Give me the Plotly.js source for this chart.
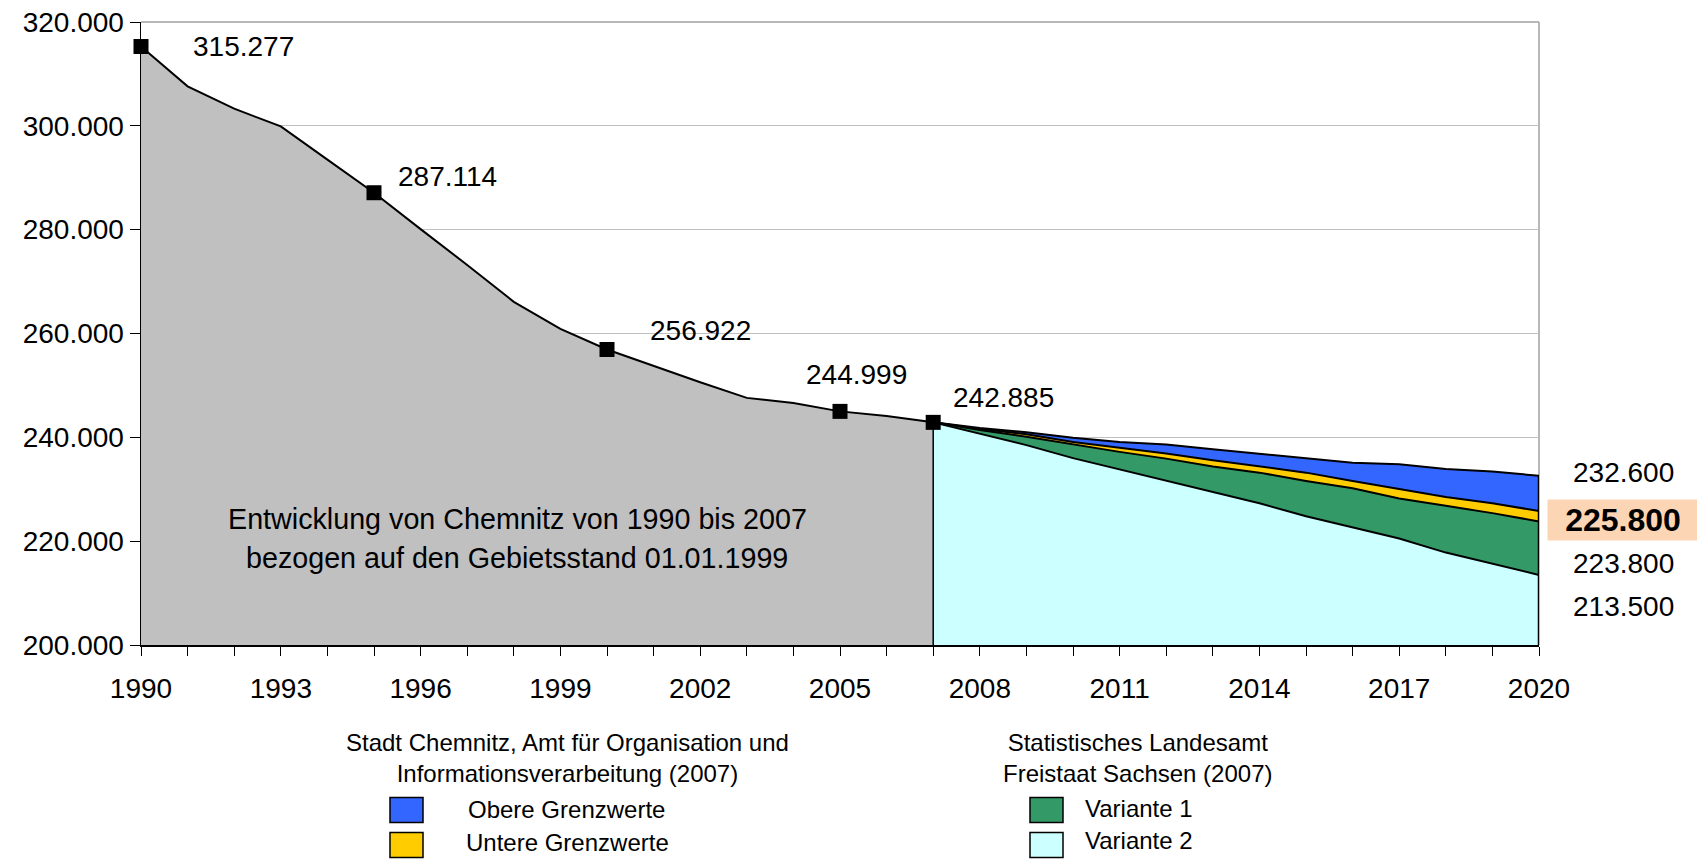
<!DOCTYPE html>
<html>
<head>
<meta charset="utf-8">
<script src="https://cdn.plot.ly/plotly-3.0.1.min.js"></script>
<style>
  html, body { margin: 0; padding: 0; background: #ffffff; }
  #chart { width: 1697px; height: 859px; }
</style>
</head>
<body>
<div id="chart"></div>
<script>
// ---------- DATA ----------
const histYears  = [1990,1991,1992,1993,1994,1995,1996,1997,1998,1999,2000,2001,2002,2003,2004,2005,2006,2007];
const histValues = [315277,307600,303300,299900,293500,287114,280100,273200,266100,260900,256922,253700,250600,247600,246600,244999,244100,242885];

const markerYears  = [1990,1995,2000,2005,2007];
const markerValues = [315277,287114,256922,244999,242885];

const projYears        = [2007,2008,2009,2010,2011,2012,2013,2014,2015,2016,2017,2018,2019,2020];
const obereGrenzwerte  = [242885,241800,241000,239900,239100,238600,237700,236800,236000,235100,234800,233900,233400,232600];
const untereGrenzwerte = [242885,241600,240600,239100,238000,236900,235600,234400,233200,231600,230000,228500,227300,225800];
const variante1        = [242885,241400,240100,238600,237200,235900,234400,233200,231600,230200,228200,226800,225400,223800];
const variante2        = [242885,240700,238500,236000,233800,231600,229500,227300,224800,222700,220500,217800,215700,213500];

const seriesNames  = ['Obere Grenzwerte','Untere Grenzwerte','Variante 1','Variante 2'];
const seriesColors = ['#3366ff','#ffcc00','#339966','#ccffff'];
const seriesData   = [obereGrenzwerte, untereGrenzwerte, variante1, variante2];

const legendHeaders = ['Stadt Chemnitz, Amt für Organisation und<br>Informationsverarbeitung (2007)',
                       'Statistisches Landesamt<br>Freistaat Sachsen (2007)'];
const noteLines = ['Entwicklung von Chemnitz von 1990 bis 2007',
                   'bezogen auf den Gebietsstand 01.01.1999'];

// ---------- LAYOUT HELPERS ----------
const W = 1697, H = 859;
const M = {l: 141, r: 158, t: 22, b: 214};
const PW = W - M.l - M.r, PH = H - M.t - M.b;
const px = x => (x - M.l) / PW;          // pixel -> paper x
const py = y => (H - M.b - y) / PH;      // pixel -> paper y
const FONT = 'Liberation Sans, Arial, sans-serif';
const fmt = n => String(n).replace(/\B(?=(\d{3})+(?!\d))/g, '.');

// ---------- TRACES ----------
const traces = [];
traces.push({
  x: histYears, y: histValues, type: 'scatter', mode: 'lines',
  fill: 'tozeroy', fillcolor: '#c0c0c0',
  line: {color: '#000000', width: 2}, showlegend: false, hoverinfo: 'skip'
});
seriesData.forEach((s, i) => {
  traces.push({
    x: projYears, y: s, type: 'scatter', mode: 'lines', name: seriesNames[i],
    fill: 'tozeroy', fillcolor: seriesColors[i],
    line: {color: '#000000', width: 2}, showlegend: false, hoverinfo: 'skip'
  });
});
traces.push({
  x: markerYears, y: markerValues, type: 'scatter', mode: 'markers',
  marker: {symbol: 'square', size: 15, color: '#000000'},
  cliponaxis: false, showlegend: false, hoverinfo: 'skip'
});

// ---------- ANNOTATIONS ----------
const annotations = [];
const labelShift = [[50, 0], [22, 16], [41, 19], [-36, 37], [18, 25]];
markerYears.forEach((yr, i) => {
  annotations.push({
    x: yr, y: markerValues[i], xref: 'x', yref: 'y', text: fmt(markerValues[i]),
    showarrow: false, xanchor: 'left', yanchor: 'middle',
    xshift: labelShift[i][0], yshift: labelShift[i][1],
    font: {family: FONT, size: 28, color: '#000'}
  });
});
const endShift = [3, -9, -42, -32];
seriesData.forEach((s, i) => {
  const v = s[s.length - 1];
  const bold = (i === 1);
  annotations.push({
    x: px(1623), y: v, xref: 'paper', yref: 'y',
    text: bold ? '<b>' + fmt(v) + '</b>' : fmt(v),
    showarrow: false, xanchor: 'center', yanchor: 'middle', yshift: endShift[i],
    font: {family: FONT, size: bold ? 32 : 28, color: '#000'},
    bgcolor: bold ? '#fcd5b4' : 'rgba(0,0,0,0)',
    width: bold ? 150 : undefined, height: bold ? 40 : undefined, borderpad: 0
  });
});
annotations.push({x: px(517), y: py(519), xref: 'paper', yref: 'paper', text: noteLines[0],
  showarrow: false, xanchor: 'center', yanchor: 'middle', font: {family: FONT, size: 28.7, color: '#000'}});
annotations.push({x: px(517), y: py(558), xref: 'paper', yref: 'paper', text: noteLines[1],
  showarrow: false, xanchor: 'center', yanchor: 'middle', font: {family: FONT, size: 28.7, color: '#000'}});

// legend (manual, two groups)
const headerPos = [[567, 758], [1137, 758]];
legendHeaders.forEach((t, i) => {
  annotations.push({x: px(headerPos[i][0]), y: py(headerPos[i][1]), xref: 'paper', yref: 'paper',
    text: t, showarrow: false, xanchor: 'center', yanchor: 'middle',
    font: {family: FONT, size: 24, color: '#000'}});
});
const swatchX = [390, 390, 1030, 1030];
const textX   = [466, 464, 1083, 1083];
const rowY    = [810, 845, 810, 845];
const textY   = [809, 842, 808, 841];
const shapes = [];
seriesNames.forEach((n, i) => {
  shapes.push({type: 'rect', xref: 'paper', yref: 'paper',
    x0: px(swatchX[i]), x1: px(swatchX[i] + 33), y0: py(rowY[i] - 12.5), y1: py(rowY[i] + 12.5),
    fillcolor: seriesColors[i], line: {color: '#000', width: 1.5}});
  annotations.push({x: px(textX[i]), y: py(textY[i]), xref: 'paper', yref: 'paper',
    text: n, showarrow: false, xanchor: 'left', yanchor: 'middle',
    font: {family: FONT, size: 24, color: '#000'}});
});

// plot border (top/right gray) and black area edges
shapes.push({type: 'line', xref: 'paper', yref: 'paper', x0: 0, x1: 1, y0: 1, y1: 1,
  line: {color: '#a0a0a0', width: 1.5}, layer: 'below'});
shapes.push({type: 'line', xref: 'paper', yref: 'paper', x0: 1, x1: 1, y0: 0, y1: 1,
  line: {color: '#a0a0a0', width: 1.5}, layer: 'below'});
const lastYear = projYears[projYears.length - 1];
shapes.push({type: 'line', xref: 'x', yref: 'y', x0: lastYear, x1: lastYear,
  y0: 200000, y1: obereGrenzwerte[obereGrenzwerte.length - 1], line: {color: '#000', width: 2.5}});
const splitYear = histYears[histYears.length - 1];
shapes.push({type: 'line', xref: 'x', yref: 'y', x0: splitYear, x1: splitYear,
  y0: 200000, y1: histValues[histValues.length - 1], line: {color: '#000', width: 1.5}});

const layout = {
  width: W, height: H,
  margin: M,
  paper_bgcolor: '#ffffff', plot_bgcolor: '#ffffff',
  separators: ',.',
  showlegend: false,
  font: {family: FONT, size: 28, color: '#000'},
  xaxis: {
    range: [1990, 2020], tick0: 1990, dtick: 3, showgrid: false, zeroline: false,
    ticks: 'outside', ticklen: 9, tickcolor: '#000', tickwidth: 1, ticklabelstandoff: 8,
    minor: {dtick: 1, ticks: 'outside', ticklen: 9, tickcolor: '#000', tickwidth: 1, showgrid: false},
    showline: true, linecolor: '#000', linewidth: 2,
    tickfont: {family: FONT, size: 28, color: '#000'}, fixedrange: true
  },
  yaxis: {
    range: [200000, 320000], dtick: 20000, tickformat: ',d',
    showgrid: true, gridcolor: '#c0c0c0', gridwidth: 1, zeroline: false,
    ticks: 'outside', ticklen: 10, tickcolor: '#000', tickwidth: 1,
    showline: true, linecolor: '#000', linewidth: 1.5,
    tickfont: {family: FONT, size: 28, color: '#000'}, fixedrange: true
  },
  annotations: annotations,
  shapes: shapes
};

Plotly.newPlot('chart', traces, layout, {displayModeBar: false, staticPlot: true});
</script>
</body>
</html>
